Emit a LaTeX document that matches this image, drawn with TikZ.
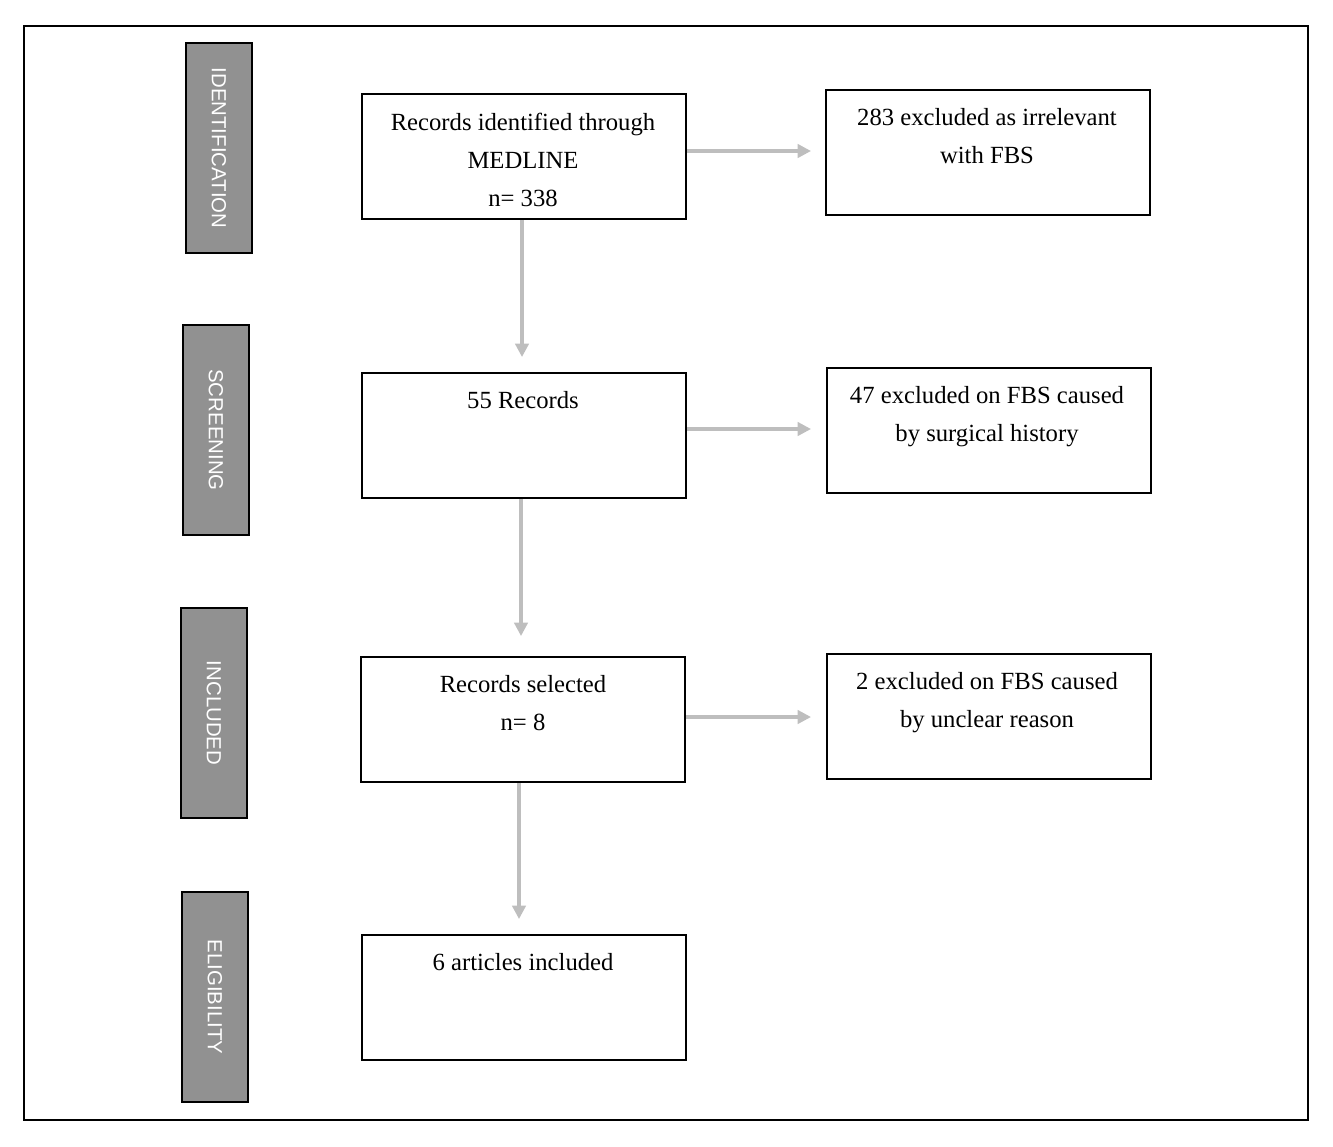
\documentclass[tikz,border=0pt]{standalone}
\usepackage{fontspec}
\setmainfont{Liberation Serif}
\newfontfamily\lblfont{Liberation Sans}
\usetikzlibrary{arrows.meta}
\definecolor{arr}{RGB}{190,190,190}
\definecolor{side}{RGB}{145,145,145}
\tikzset{
  box/.style={draw=black,line width=1.5pt,minimum width=324*0.75pt,minimum height=125*0.75pt,anchor=north west,inner sep=0pt},
  sidebox/.style={draw=black,line width=1.8pt,fill=side,minimum width=210*0.75pt,minimum height=66*0.75pt,rotate=-90,text=white,font=\lblfont\fontsize{15.3}{17}\selectfont},
  txt/.style={font=\fontsize{18.5}{28.5}\selectfont,align=center,anchor=north},
  flow/.style={draw=arr,line width=2.4pt,-{Triangle[length=10pt,width=10pt]}}
}
\begin{document}
\begin{tikzpicture}[x=0.75pt,y=-0.75pt]
\useasboundingbox (0,0) rectangle (1333,1146);
\draw[line width=1.2pt] (24,26) rectangle (1308,1120);
\node[sidebox] (s1) at (219,148) {IDENTIFICATION};
\node[sidebox] (s2) at (216,430) {SCREENING};
\node[sidebox] (s3) at (214,713) {INCLUDED};
\node[sidebox] (s4) at (215,997) {ELIGIBILITY};
\node[box] (b1) at (361,93) {};
\node[box] (b2) at (361,372) {};
\node[box] (b3) at (360,656) {};
\node[box] (b4) at (361,934) {};
\node[box] (r1) at (825,89) {};
\node[box] (r2) at (826,367) {};
\node[box] (r3) at (826,653) {};
\node[txt] (t1) at (523,108) {Records identified through\\MEDLINE\\n= 338};
\node[txt] (t2) at (523,387) {55 Records};
\node[txt] (t3) at (523,671) {Records selected\\n= 8};
\node[txt] (t4) at (523,949) {6 articles included};
\node[txt] (u1) at (987,104) {283 excluded as irrelevant\\with FBS};
\node[txt] (u2) at (987,382) {47 excluded on FBS caused\\by surgical history};
\node[txt] (u3) at (987,668) {2 excluded on FBS caused\\by unclear reason};
\coordinate (a1) at (522,357); \coordinate (a2) at (521,636); \coordinate (a3) at (519,919);
\draw[flow] (b1.south -| a1) -- (a1);
\draw[flow] (b2.south -| a2) -- (a2);
\draw[flow] (b3.south -| a3) -- (a3);
\coordinate (h1) at (811,151); \coordinate (h2) at (811,429); \coordinate (h3) at (811,717);
\draw[flow] (b1.east |- h1) -- (h1);
\draw[flow] (b2.east |- h2) -- (h2);
\draw[flow] (b3.east |- h3) -- (h3);
\end{tikzpicture}
\end{document}
